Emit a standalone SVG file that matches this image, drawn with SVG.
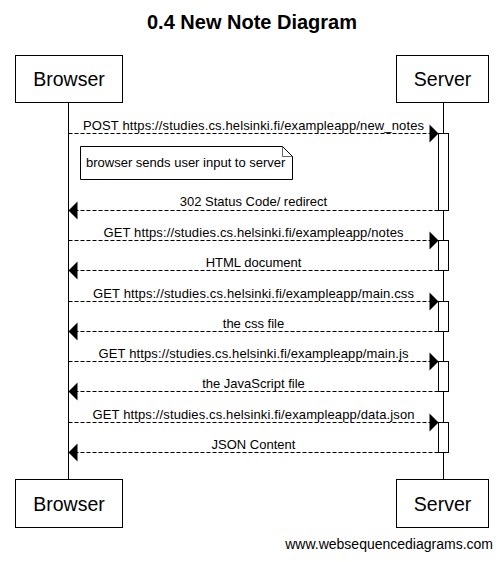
<svg xmlns="http://www.w3.org/2000/svg" width="504" height="562" viewBox="0 0 504 562">
<defs>
<style>
text{font-family:"Liberation Sans",Arial,sans-serif;fill:#000}
.title{font-size:20px;font-weight:bold;text-anchor:middle}
.actor rect{fill:#fff;stroke:#000;stroke-width:1}
.actor text{font-size:19.5px;text-anchor:middle}
.life{stroke:#000;stroke-width:1;fill:none}
.act{fill:#fff;stroke:#000;stroke-width:1}
.msg line{stroke:#000;stroke-width:1;stroke-dasharray:4,2;fill:none}
.msg polygon{fill:#000;stroke:none}
.lbl{font-size:13px;text-anchor:middle}
.note path{fill:#fff;stroke:#000;stroke-width:1}
.note text{font-size:13px}
.foot{font-size:14px;text-anchor:end}
</style>
</defs>
<rect x="0" y="0" width="504" height="562" fill="#fff"/>
<text class="title" x="252" y="29">0.4 New Note Diagram</text>

<g id="lifelines">
<line class="life" x1="68.5" y1="102.5" x2="68.5" y2="479.5"/>
<line class="life" x1="443.5" y1="102.5" x2="443.5" y2="479.5"/>
</g>

<g id="browser-top" class="actor">
<rect x="15.5" y="55.5" width="107" height="47"/>
<text x="69" y="86">Browser</text>
</g>
<g id="server-top" class="actor">
<rect x="396.5" y="55.5" width="92" height="47"/>
<text x="442.5" y="86">Server</text>
</g>
<g id="browser-bottom" class="actor">
<rect x="15.5" y="479.5" width="107" height="48"/>
<text x="69" y="511">Browser</text>
</g>
<g id="server-bottom" class="actor">
<rect x="396.5" y="479.5" width="92" height="48"/>
<text x="442.5" y="511">Server</text>
</g>

<g id="activations">
<rect class="act" x="438.5" y="133.5" width="10" height="77"/>
<rect class="act" x="438.5" y="240.5" width="10" height="30"/>
<rect class="act" x="438.5" y="301.5" width="10" height="30"/>
<rect class="act" x="438.5" y="361.5" width="10" height="30"/>
<rect class="act" x="438.5" y="422.5" width="10" height="30"/>
</g>

<g id="note" class="note">
<path d="M80.5,146.5 H282.5 L292.5,156.5 V179.5 H80.5 Z"/>
<path d="M282.5,146.5 V156.5 H292.5" style="fill:none;stroke-width:0.6"/>
<text x="86" y="167">browser sends user input to server</text>
</g>

<g id="connectors" class="msg">
<line x1="68.5" y1="133.5" x2="430" y2="133.5"/>
<polygon points="438.5,133.5 429.5,124.5 429.5,142.5"/>
<text class="lbl" x="253.5" y="130" textLength="341" lengthAdjust="spacing">POST https://studies.cs.helsinki.fi/exampleapp/new_notes</text>

<line x1="438.5" y1="210.5" x2="77" y2="210.5"/>
<polygon points="68.5,210.5 77.5,201.5 77.5,219.5"/>
<text class="lbl" x="253.5" y="206">302 Status Code/ redirect</text>

<line x1="68.5" y1="240.5" x2="430" y2="240.5"/>
<polygon points="438.5,240.5 429.5,231.5 429.5,249.5"/>
<text class="lbl" x="253.5" y="236.5" textLength="300" lengthAdjust="spacing">GET https://studies.cs.helsinki.fi/exampleapp/notes</text>

<line x1="438.5" y1="270.5" x2="77" y2="270.5"/>
<polygon points="68.5,270.5 77.5,261.5 77.5,279.5"/>
<text class="lbl" x="253.5" y="266.5">HTML document</text>

<line x1="68.5" y1="301.5" x2="430" y2="301.5"/>
<polygon points="438.5,301.5 429.5,292.5 429.5,310.5"/>
<text class="lbl" x="253.5" y="297.5" textLength="321" lengthAdjust="spacing">GET https://studies.cs.helsinki.fi/exampleapp/main.css</text>

<line x1="438.5" y1="331.5" x2="77" y2="331.5"/>
<polygon points="68.5,331.5 77.5,322.5 77.5,340.5"/>
<text class="lbl" x="253.5" y="327.5">the css file</text>

<line x1="68.5" y1="361.5" x2="430" y2="361.5"/>
<polygon points="438.5,361.5 429.5,352.5 429.5,370.5"/>
<text class="lbl" x="253.5" y="357.5" textLength="310" lengthAdjust="spacing">GET https://studies.cs.helsinki.fi/exampleapp/main.js</text>

<line x1="438.5" y1="391.5" x2="77" y2="391.5"/>
<polygon points="68.5,391.5 77.5,382.5 77.5,400.5"/>
<text class="lbl" x="253.5" y="387.5">the JavaScript file</text>

<line x1="68.5" y1="422.5" x2="430" y2="422.5"/>
<polygon points="438.5,422.5 429.5,413.5 429.5,431.5"/>
<text class="lbl" x="253.5" y="418.5" textLength="322" lengthAdjust="spacing">GET https://studies.cs.helsinki.fi/exampleapp/data.json</text>

<line x1="438.5" y1="452.5" x2="77" y2="452.5"/>
<polygon points="68.5,452.5 77.5,443.5 77.5,461.5"/>
<text class="lbl" x="253.5" y="448.5">JSON Content</text>
</g>

<text class="foot" x="493" y="549">www.websequencediagrams.com</text>
</svg>
